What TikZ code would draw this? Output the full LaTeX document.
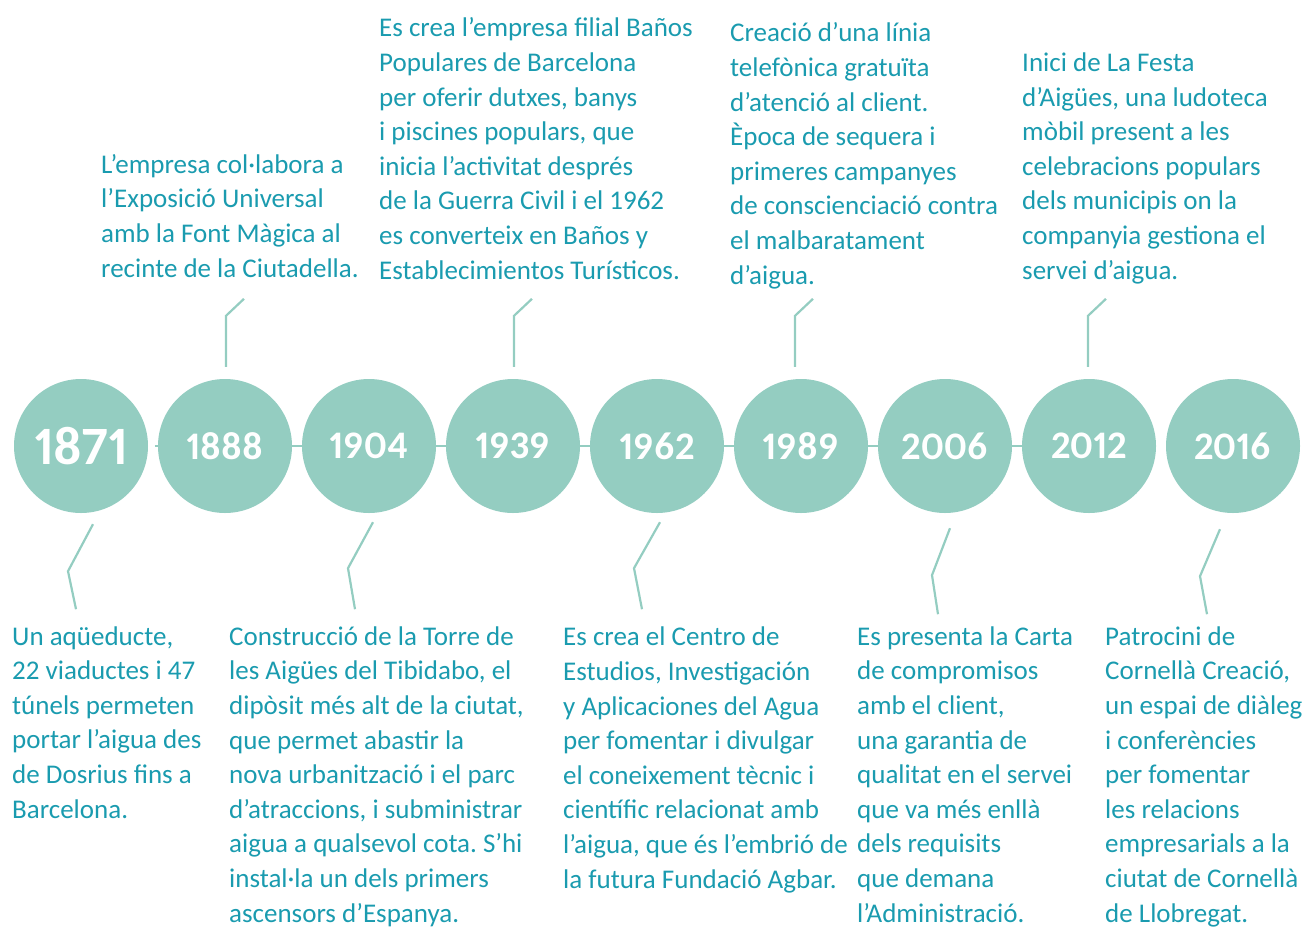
\documentclass[tikz,border=0pt]{standalone}
\usepackage{fontspec}
\setmainfont{Carlito}
\newfontfamily\yearfont{Carlito}[Numbers=Proportional]
\usepackage{xcolor}
\usetikzlibrary{positioning, calc}
\definecolor{tlmint}{HTML}{94CDC1}
\definecolor{tlteal}{HTML}{1A9BAF}
\frenchspacing

\tikzset{
  yearcirc/.style={circle, fill=tlmint, minimum size=134pt, inner sep=0pt,
    text=white, font=\yearfont\fontsize{39}{39}\selectfont\bfseries},
  tline/.style={draw=tlmint, line width=2.2pt, line join=miter},
  % anchor "base" sits on the last line of a block
  evtext/.style={anchor=base west, inner sep=0pt, align=left, text=tlteal,
    font=\fontsize{27}{34.6}\selectfont},
}

\begin{document}
\begin{tikzpicture}[x=1pt, y=-1pt]
  \useasboundingbox (0,0) rectangle (1304,927);

  %% Year circles along the axis
  \node[yearcirc, font=\yearfont\fontsize{54}{54}\selectfont\bfseries] (y1871) at (81,446) {1871};
  \foreach \yr [count=\i] in {1888,1904,1939,1962,1989,2006,2012,2016}
    \node[yearcirc] (y\yr) at ({81+144*\i},446) {\yr};

  %% Axis pieces between circles
  \draw[tline] ([xshift=-3pt]y1888.west) -- (y1888.west);
  \foreach \a/\b in {1888/1904,1904/1939,1939/1962,1962/1989,1989/2006,2006/2012}
    \draw[tline] (y\a.east) -- (y\b.west);

  %% ── Events above ─────────────────────────────────────────────
  \node[evtext] (t1888) at (101,277) {L’empresa col·labora a\\l’Exposició Universal\\amb la Font Màgica al\\recinte de la Ciutadella.};
  \node[evtext] (t1939) at (379,279) {Es crea l’empresa filial Baños\\Populares de Barcelona\\per oferir dutxes, banys\\i piscines populars, que\\inicia l’activitat després\\de la Guerra Civil i el 1962\\es converteix en Baños y\\Establecimientos Turísticos.};
  \node[evtext] (t1989) at (730,284) {Creació d’una línia\\telefònica gratuïta\\d’atenció al client.\\Època de sequera i\\primeres campanyes\\de conscienciació contra\\el malbaratament\\d’aigua.};
  \node[evtext] (t2012) at (1022,279) {Inici de La Festa\\d’Aigües, una ludoteca\\mòbil present a les\\celebracions populars\\dels municipis on la\\companyia gestiona el\\servei d’aigua.};

  \foreach \yr/\dx in {1888/1, 1939/1, 1989/-6, 2012/-1}
    \draw[tline] ([xshift=\dx pt, yshift=12pt]y\yr.north) -- ++(0,-51) -- ++(18,-17);

  %% ── Events below ─────────────────────────────────────────────
  \node[evtext] (t1871) at (12,818) {Un aqüeducte,\\22 viaductes i 47\\túnels permeten\\portar l’aigua des\\de Dosrius fins a\\Barcelona.};
  \node[evtext] (t1904) at (229,922) {Construcció de la Torre de\\les Aigües del Tibidabo, el\\dipòsit més alt de la ciutat,\\que permet abastir la\\nova urbanització i el parc\\d’atraccions, i subministrar\\aigua a qualsevol cota. S’hi\\instal·la un dels primers\\ascensors d’Espanya.};
  \node[evtext] (t1962) at (563,888) {Es crea el Centro de\\Estudios, Investigación\\y Aplicaciones del Agua\\per fomentar i divulgar\\el coneixement tècnic i\\científic relacionat amb\\l’aigua, que és l’embrió de\\la futura Fundació Agbar.};
  \node[evtext] (t2006) at (857,922) {Es presenta la Carta\\de compromisos\\amb el client,\\una garantia de\\qualitat en el servei\\que va més enllà\\dels requisits\\que demana\\l’Administració.};
  \node[evtext] (t2016) at (1105,922) {Patrocini de\\Cornellà Creació,\\un espai de diàleg\\i conferències\\per fomentar\\les relacions\\empresarials a la\\ciutat de Cornellà\\de Llobregat.};

  \foreach \yr/\dx/\dy/\ax/\ay/\bx/\by in {1871/12/11/-25/47/8/38, 1904/4/9/-25/46/7/41,
      1962/3/9/-26/46/8/41, 2006/5/15/-18/47/6/39, 2016/-13/16/-20/47/7/38}
    \draw[tline] ([xshift=\dx pt, yshift=-\dy pt]y\yr.south) -- ++(\ax,\ay) -- ++(\bx,\by);

\end{tikzpicture}
\end{document}
